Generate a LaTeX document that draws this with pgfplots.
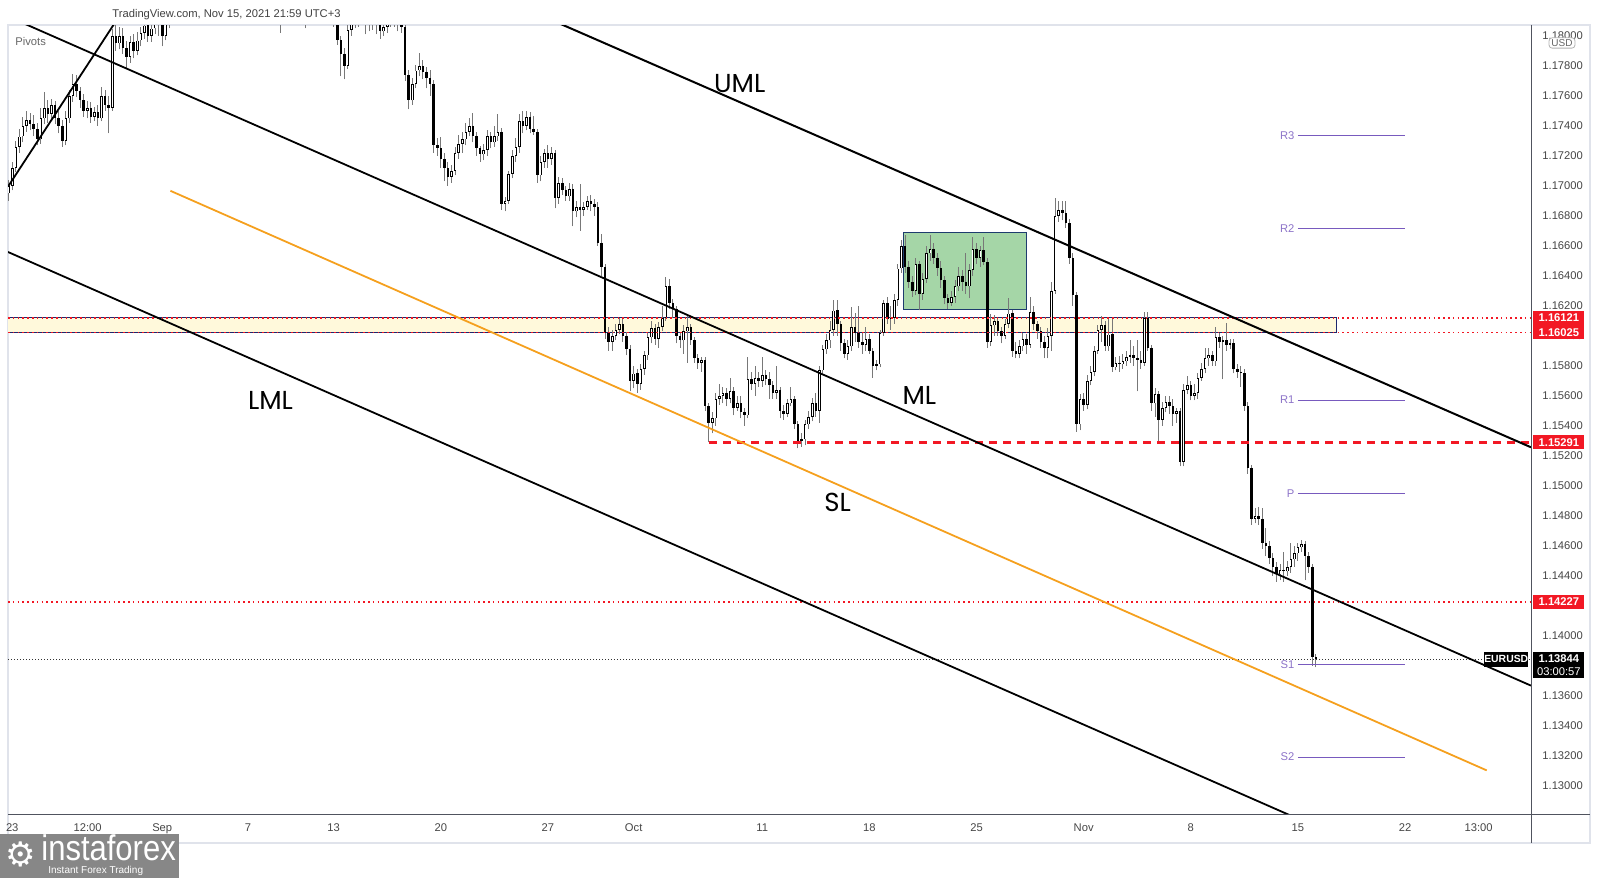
\documentclass[border=0pt]{standalone}
\usepackage{graphicx}
\usepackage{fontspec}
\setmainfont{Liberation Sans}
\newfontfamily\labfont{Poppins}
\newfontfamily\symfont{DejaVu Sans}
\usepackage{pgfplots}
\pgfplotsset{compat=1.18}
\usepackage{pgfplotstable}

\definecolor{tvred}{RGB}{242,24,36}
\definecolor{pivc}{RGB}{120,90,190}
\definecolor{bandy}{RGB}{255,249,219}
\definecolor{navyc}{RGB}{30,40,110}
\definecolor{boxg}{RGB}{165,214,167}
\definecolor{boxb}{RGB}{30,60,110}
\definecolor{slc}{RGB}{245,160,30}
\definecolor{wickc}{RGB}{120,120,120}
\definecolor{framec}{RGB}{224,227,235}
\definecolor{tickc}{RGB}{70,70,70}
\definecolor{axc}{RGB}{80,83,94}
\definecolor{logog}{RGB}{135,135,135}

\pgfplotstableread{
t o h l c
-0.167 1.1695 1.1704 1.1690 1.1700
0.000 1.1700 1.1716 1.1697 1.1712
0.167 1.1712 1.1730 1.1709 1.1726
0.333 1.1726 1.1738 1.1722 1.1733
0.500 1.1733 1.1746 1.1729 1.1740
0.667 1.1740 1.1750 1.1736 1.1744
0.833 1.1744 1.1749 1.1737 1.1741
1.000 1.1741 1.1747 1.1733 1.1738
1.167 1.1738 1.1742 1.1727 1.1731
1.333 1.1731 1.1752 1.1728 1.1745
1.500 1.1745 1.1763 1.1741 1.1752
1.667 1.1752 1.1757 1.1742 1.1748
1.833 1.1748 1.1758 1.1744 1.1754
2.000 1.1754 1.1757 1.1741 1.1745
2.167 1.1745 1.1750 1.1735 1.1740
2.333 1.1740 1.1744 1.1726 1.1730
2.500 1.1730 1.1750 1.1727 1.1745
2.667 1.1745 1.1764 1.1742 1.1760
2.833 1.1760 1.1775 1.1756 1.1768
3.000 1.1768 1.1774 1.1759 1.1763
3.167 1.1763 1.1766 1.1752 1.1757
3.333 1.1757 1.1761 1.1746 1.1750
3.500 1.1750 1.1757 1.1745 1.1752
3.667 1.1752 1.1756 1.1742 1.1746
3.833 1.1746 1.1753 1.1743 1.1749
4.000 1.1749 1.1754 1.1740 1.1745
4.167 1.1745 1.1766 1.1743 1.1760
4.333 1.1760 1.1764 1.1750 1.1754
4.500 1.1754 1.1760 1.1735 1.1752
4.667 1.1752 1.1805 1.1750 1.1800
4.833 1.1800 1.1808 1.1790 1.1795
5.000 1.1795 1.1806 1.1791 1.1800
5.167 1.1800 1.1805 1.1788 1.1792
5.333 1.1792 1.1797 1.1778 1.1786
5.500 1.1786 1.1800 1.1782 1.1796
5.667 1.1796 1.1801 1.1785 1.1790
5.833 1.1790 1.1803 1.1787 1.1797
6.000 1.1797 1.1806 1.1793 1.1802
6.167 1.1802 1.1812 1.1798 1.1807
6.333 1.1807 1.1811 1.1796 1.1800
6.500 1.1800 1.1813 1.1796 1.1805
6.667 1.1805 1.1818 1.1801 1.1812
6.833 1.1812 1.1815 1.1800 1.1808
7.000 1.1808 1.1812 1.1793 1.1800
7.167 1.1800 1.1814 1.1797 1.1810
7.333 1.1810 1.1823 1.1805 1.1818
7.500 1.1818 1.1830 1.1812 1.1825
7.667 1.1825 1.1836 1.1820 1.1830
7.833 1.1830 1.1840 1.1826 1.1835
8.000 1.1835 1.1846 1.1830 1.1842
8.167 1.1842 1.1852 1.1838 1.1848
8.333 1.1848 1.1860 1.1844 1.1855
8.500 1.1855 1.1866 1.1850 1.1860
8.667 1.1860 1.1864 1.1852 1.1856
8.833 1.1856 1.1863 1.1853 1.1860
9.000 1.1860 1.1868 1.1857 1.1865
9.167 1.1865 1.1874 1.1862 1.1870
9.333 1.1870 1.1875 1.1862 1.1868
9.500 1.1868 1.1890 1.1860 1.1880
9.667 1.1880 1.1888 1.1876 1.1882
9.833 1.1882 1.1885 1.1874 1.1878
10.000 1.1878 1.1882 1.1872 1.1876
10.167 1.1876 1.1880 1.1868 1.1872
10.333 1.1872 1.1876 1.1865 1.1868
10.500 1.1868 1.1874 1.1864 1.1870
10.667 1.1870 1.1873 1.1862 1.1866
10.833 1.1866 1.1871 1.1863 1.1868
11.000 1.1868 1.1872 1.1856 1.1860
11.167 1.1860 1.1863 1.1848 1.1852
11.333 1.1852 1.1855 1.1840 1.1845
11.500 1.1845 1.1848 1.1830 1.1838
11.667 1.1838 1.1846 1.1832 1.1842
11.833 1.1842 1.1845 1.1834 1.1838
12.000 1.1838 1.1841 1.1826 1.1832
12.167 1.1832 1.1836 1.1820 1.1825
12.333 1.1825 1.1828 1.1812 1.1818
12.500 1.1818 1.1822 1.1802 1.1814
12.667 1.1814 1.1824 1.1810 1.1820
12.833 1.1820 1.1823 1.1813 1.1818
13.000 1.1818 1.1828 1.1814 1.1824
13.167 1.1824 1.1830 1.1815 1.1820
13.333 1.1820 1.1834 1.1816 1.1828
13.500 1.1828 1.1832 1.1812 1.1822
13.667 1.1822 1.1830 1.1805 1.1826
13.833 1.1826 1.1834 1.1822 1.1830
14.000 1.1830 1.1840 1.1826 1.1836
14.167 1.1836 1.1845 1.1832 1.1840
14.333 1.1840 1.1843 1.1830 1.1834
14.500 1.1834 1.1838 1.1822 1.1828
14.667 1.1828 1.1832 1.1818 1.1824
14.833 1.1824 1.1828 1.1816 1.1820
15.000 1.1820 1.1824 1.1806 1.1810
15.167 1.1810 1.1813 1.1794 1.1797
15.333 1.1797 1.1800 1.1773 1.1788
15.500 1.1788 1.1792 1.1771 1.1780
15.667 1.1780 1.1808 1.1778 1.1804
15.833 1.1804 1.1815 1.1800 1.1810
16.000 1.1810 1.1818 1.1805 1.1815
16.167 1.1815 1.1820 1.1806 1.1812
16.333 1.1812 1.1822 1.1808 1.1818
16.500 1.1818 1.1821 1.1801 1.1810
16.667 1.1810 1.1815 1.1803 1.1808
16.833 1.1808 1.1816 1.1804 1.1812
17.000 1.1812 1.1815 1.1801 1.1808
17.167 1.1808 1.1812 1.1798 1.1803
17.333 1.1803 1.1810 1.1800 1.1806
17.500 1.1806 1.1814 1.1802 1.1810
17.667 1.1810 1.1818 1.1806 1.1815
17.833 1.1815 1.1818 1.1806 1.1812
18.000 1.1812 1.1816 1.1803 1.1808
18.167 1.1808 1.1813 1.1802 1.1806
18.333 1.1806 1.1809 1.1770 1.1774
18.500 1.1774 1.1777 1.1751 1.1757
18.667 1.1757 1.1772 1.1754 1.1768
18.833 1.1768 1.1781 1.1765 1.1777
19.000 1.1777 1.1789 1.1773 1.1780
19.167 1.1780 1.1784 1.1771 1.1776
19.333 1.1776 1.1779 1.1765 1.1772
19.500 1.1772 1.1777 1.1760 1.1768
19.667 1.1768 1.1771 1.1722 1.1727
19.833 1.1727 1.1732 1.1720 1.1725
20.000 1.1725 1.1733 1.1712 1.1718
20.167 1.1718 1.1722 1.1703 1.1712
20.333 1.1712 1.1716 1.1700 1.1706
20.500 1.1706 1.1714 1.1702 1.1710
20.667 1.1710 1.1726 1.1707 1.1722
20.833 1.1722 1.1734 1.1718 1.1728
21.000 1.1728 1.1736 1.1722 1.1731
21.167 1.1731 1.1742 1.1727 1.1736
21.333 1.1736 1.1745 1.1733 1.1740
21.500 1.1740 1.1749 1.1729 1.1733
21.667 1.1733 1.1736 1.1720 1.1725
21.833 1.1725 1.1727 1.1716 1.1721
22.000 1.1721 1.1728 1.1717 1.1724
22.167 1.1724 1.1737 1.1720 1.1733
22.333 1.1733 1.1736 1.1725 1.1729
22.500 1.1729 1.1740 1.1726 1.1733
22.667 1.1733 1.1748 1.1730 1.1736
22.833 1.1736 1.1739 1.1684 1.1688
23.000 1.1688 1.1693 1.1683 1.1690
23.167 1.1690 1.1710 1.1688 1.1708
23.333 1.1708 1.1724 1.1705 1.1720
23.500 1.1720 1.1732 1.1716 1.1726
23.667 1.1726 1.1748 1.1722 1.1743
23.833 1.1743 1.1750 1.1735 1.1740
24.000 1.1740 1.1750 1.1737 1.1746
24.167 1.1746 1.1749 1.1735 1.1738
24.333 1.1738 1.1747 1.1734 1.1736
24.500 1.1736 1.1738 1.1702 1.1707
24.667 1.1707 1.1720 1.1703 1.1716
24.833 1.1716 1.1725 1.1712 1.1722
25.000 1.1722 1.1727 1.1712 1.1718
25.167 1.1718 1.1726 1.1714 1.1722
25.333 1.1722 1.1724 1.1685 1.1692
25.500 1.1692 1.1706 1.1688 1.1702
25.667 1.1702 1.1705 1.1694 1.1697
25.833 1.1697 1.1700 1.1690 1.1693
26.000 1.1693 1.1702 1.1690 1.1698
26.167 1.1698 1.1701 1.1673 1.1683
26.333 1.1683 1.1690 1.1679 1.1686
26.500 1.1686 1.1701 1.1670 1.1684
26.667 1.1684 1.1689 1.1680 1.1686
26.833 1.1686 1.1693 1.1684 1.1690
27.000 1.1690 1.1694 1.1683 1.1688
27.167 1.1688 1.1691 1.1680 1.1686
27.333 1.1686 1.1689 1.1660 1.1662
27.500 1.1662 1.1668 1.1640 1.1646
27.667 1.1646 1.1648 1.1598 1.1602
27.833 1.1602 1.1606 1.1590 1.1596
28.000 1.1596 1.1604 1.1590 1.1600
28.167 1.1600 1.1608 1.1597 1.1604
28.333 1.1604 1.1612 1.1601 1.1608
28.500 1.1608 1.1611 1.1596 1.1600
28.667 1.1600 1.1603 1.1587 1.1591
28.833 1.1591 1.1594 1.1563 1.1570
29.000 1.1570 1.1580 1.1565 1.1575
29.167 1.1575 1.1578 1.1562 1.1568
29.333 1.1568 1.1581 1.1564 1.1578
29.500 1.1578 1.1590 1.1574 1.1587
29.667 1.1587 1.1603 1.1584 1.1599
29.833 1.1599 1.1610 1.1595 1.1605
30.000 1.1605 1.1608 1.1594 1.1598
30.167 1.1598 1.1609 1.1592 1.1606
30.333 1.1606 1.1620 1.1603 1.1612
30.500 1.1612 1.1639 1.1610 1.1633
30.667 1.1633 1.1638 1.1618 1.1622
30.833 1.1622 1.1625 1.1612 1.1618
31.000 1.1618 1.1620 1.1595 1.1600
31.167 1.1600 1.1603 1.1592 1.1597
31.333 1.1597 1.1607 1.1588 1.1603
31.500 1.1603 1.1614 1.1582 1.1606
31.667 1.1606 1.1608 1.1594 1.1597
31.833 1.1597 1.1599 1.1582 1.1585
32.000 1.1585 1.1588 1.1578 1.1582
32.167 1.1582 1.1586 1.1576 1.1584
32.333 1.1584 1.1586 1.1550 1.1553
32.500 1.1553 1.1555 1.1529 1.1542
32.667 1.1542 1.1549 1.1535 1.1545
32.833 1.1545 1.1562 1.1540 1.1558
33.000 1.1558 1.1568 1.1554 1.1560
33.167 1.1560 1.1566 1.1555 1.1562
33.333 1.1562 1.1565 1.1553 1.1558
33.500 1.1558 1.1572 1.1555 1.1563
33.667 1.1563 1.1566 1.1547 1.1552
33.833 1.1552 1.1560 1.1550 1.1555
34.000 1.1555 1.1560 1.1545 1.1549
34.167 1.1549 1.1552 1.1540 1.1547
34.333 1.1547 1.1586 1.1545 1.1571
34.500 1.1571 1.1576 1.1564 1.1568
34.667 1.1568 1.1580 1.1560 1.1572
34.833 1.1572 1.1576 1.1566 1.1570
35.000 1.1570 1.1586 1.1566 1.1574
35.167 1.1574 1.1577 1.1567 1.1571
35.333 1.1571 1.1576 1.1558 1.1567
35.500 1.1567 1.1570 1.1558 1.1562
35.667 1.1562 1.1580 1.1558 1.1564
35.833 1.1564 1.1566 1.1545 1.1550
36.000 1.1550 1.1554 1.1544 1.1548
36.167 1.1548 1.1558 1.1546 1.1555
36.333 1.1555 1.1566 1.1553 1.1558
36.500 1.1558 1.1560 1.1538 1.1541
36.667 1.1541 1.1543 1.1525 1.1530
36.833 1.1530 1.1535 1.1526 1.1531
37.000 1.1531 1.1544 1.1527 1.1541
37.167 1.1541 1.1550 1.1538 1.1546
37.333 1.1546 1.1559 1.1543 1.1555
37.500 1.1555 1.1562 1.1546 1.1550
37.667 1.1550 1.1580 1.1542 1.1577
37.833 1.1577 1.1594 1.1575 1.1591
38.000 1.1591 1.1601 1.1588 1.1597
38.167 1.1597 1.1610 1.1592 1.1604
38.333 1.1604 1.1624 1.1600 1.1617
38.500 1.1617 1.1624 1.1600 1.1608
38.667 1.1608 1.1610 1.1590 1.1595
38.833 1.1595 1.1598 1.1585 1.1588
39.000 1.1588 1.1597 1.1584 1.1593
39.167 1.1593 1.1619 1.1590 1.1606
39.333 1.1606 1.1615 1.1596 1.1602
39.500 1.1602 1.1620 1.1592 1.1596
39.667 1.1596 1.1602 1.1588 1.1594
39.833 1.1594 1.1606 1.1590 1.1598
40.000 1.1598 1.1601 1.1588 1.1590
40.167 1.1590 1.1592 1.1572 1.1580
40.333 1.1580 1.1584 1.1577 1.1581
40.500 1.1581 1.1604 1.1579 1.1602
40.667 1.1602 1.1624 1.1600 1.1622
40.833 1.1622 1.1626 1.1608 1.1611
41.000 1.1611 1.1620 1.1604 1.1612
41.167 1.1612 1.1628 1.1608 1.1624
41.333 1.1624 1.1648 1.1620 1.1645
41.500 1.1645 1.1664 1.1642 1.1660
41.667 1.1660 1.1667 1.1642 1.1646
41.833 1.1646 1.1650 1.1632 1.1636
42.000 1.1636 1.1640 1.1626 1.1630
42.167 1.1630 1.1652 1.1627 1.1648
42.333 1.1648 1.1650 1.1617 1.1628
42.500 1.1628 1.1642 1.1624 1.1638
42.667 1.1638 1.1660 1.1635 1.1655
42.833 1.1655 1.1667 1.1650 1.1658
43.000 1.1658 1.1662 1.1648 1.1652
43.167 1.1652 1.1655 1.1640 1.1645
43.333 1.1645 1.1650 1.1632 1.1637
43.500 1.1637 1.1640 1.1621 1.1625
43.667 1.1625 1.1628 1.1618 1.1622
43.833 1.1622 1.1630 1.1620 1.1626
44.000 1.1626 1.1637 1.1622 1.1633
44.167 1.1633 1.1646 1.1630 1.1640
44.333 1.1640 1.1644 1.1630 1.1636
44.500 1.1636 1.1655 1.1628 1.1633
44.667 1.1633 1.1648 1.1625 1.1644
44.833 1.1644 1.1666 1.1640 1.1658
45.000 1.1658 1.1662 1.1648 1.1652
45.167 1.1652 1.1660 1.1646 1.1657
45.333 1.1657 1.1666 1.1647 1.1649
45.500 1.1649 1.1652 1.1592 1.1596
45.667 1.1596 1.1615 1.1593 1.1607
45.833 1.1607 1.1614 1.1600 1.1610
46.000 1.1610 1.1612 1.1600 1.1603
46.167 1.1603 1.1606 1.1595 1.1600
46.333 1.1600 1.1611 1.1598 1.1608
46.500 1.1608 1.1625 1.1605 1.1615
46.667 1.1615 1.1617 1.1586 1.1590
46.833 1.1590 1.1596 1.1585 1.1588
47.000 1.1588 1.1597 1.1585 1.1593
47.167 1.1593 1.1602 1.1590 1.1598
47.333 1.1598 1.1601 1.1588 1.1594
47.500 1.1594 1.1626 1.1592 1.1616
47.667 1.1616 1.1620 1.1604 1.1608
47.833 1.1608 1.1610 1.1598 1.1603
48.000 1.1603 1.1606 1.1592 1.1596
48.167 1.1596 1.1600 1.1585 1.1592
48.333 1.1592 1.1605 1.1585 1.1600
48.500 1.1600 1.1636 1.1590 1.1630
48.667 1.1630 1.1692 1.1628 1.1680
48.833 1.1680 1.1690 1.1676 1.1684
49.000 1.1684 1.1690 1.1677 1.1682
49.167 1.1682 1.1690 1.1672 1.1675
49.333 1.1675 1.1678 1.1648 1.1652
49.500 1.1652 1.1655 1.1620 1.1627
49.667 1.1627 1.1629 1.1536 1.1541
49.833 1.1541 1.1561 1.1537 1.1558
50.000 1.1558 1.1562 1.1550 1.1554
50.167 1.1554 1.1574 1.1551 1.1570
50.333 1.1570 1.1580 1.1567 1.1576
50.500 1.1576 1.1593 1.1573 1.1590
50.667 1.1590 1.1607 1.1588 1.1604
50.833 1.1604 1.1613 1.1596 1.1607
51.000 1.1607 1.1610 1.1590 1.1593
51.167 1.1593 1.1612 1.1590 1.1601
51.333 1.1601 1.1611 1.1576 1.1579
51.500 1.1579 1.1586 1.1577 1.1582
51.667 1.1582 1.1587 1.1576 1.1581
51.833 1.1581 1.1588 1.1578 1.1583
52.000 1.1583 1.1590 1.1580 1.1586
52.167 1.1586 1.1597 1.1582 1.1587
52.333 1.1587 1.1593 1.1580 1.1585
52.500 1.1585 1.1597 1.1563 1.1584
52.667 1.1584 1.1590 1.1578 1.1582
52.833 1.1582 1.1616 1.1580 1.1612
53.000 1.1612 1.1616 1.1590 1.1592
53.167 1.1592 1.1594 1.1550 1.1555
53.333 1.1555 1.1565 1.1546 1.1561
53.500 1.1561 1.1563 1.1529 1.1544
53.667 1.1544 1.1556 1.1540 1.1552
53.833 1.1552 1.1560 1.1549 1.1556
54.000 1.1556 1.1560 1.1548 1.1553
54.167 1.1553 1.1558 1.1540 1.1548
54.333 1.1548 1.1552 1.1542 1.1550
54.500 1.1550 1.1552 1.1513 1.1516
54.667 1.1516 1.1568 1.1513 1.1564
54.833 1.1564 1.1573 1.1561 1.1567
55.000 1.1567 1.1570 1.1557 1.1560
55.167 1.1560 1.1568 1.1557 1.1562
55.333 1.1562 1.1575 1.1558 1.1572
55.500 1.1572 1.1582 1.1570 1.1578
55.667 1.1578 1.1592 1.1575 1.1585
55.833 1.1585 1.1592 1.1580 1.1587
56.000 1.1587 1.1590 1.1580 1.1583
56.167 1.1583 1.1606 1.1580 1.1599
56.333 1.1599 1.1602 1.1592 1.1596
56.500 1.1596 1.1600 1.1571 1.1597
56.667 1.1597 1.1609 1.1590 1.1594
56.833 1.1594 1.1598 1.1591 1.1595
57.000 1.1595 1.1598 1.1575 1.1578
57.167 1.1578 1.1581 1.1572 1.1576
57.333 1.1576 1.1580 1.1566 1.1575
57.500 1.1575 1.1578 1.1550 1.1553
57.667 1.1553 1.1556 1.1508 1.1512
57.833 1.1512 1.1514 1.1474 1.1478
58.000 1.1478 1.1485 1.1475 1.1480
58.167 1.1480 1.1486 1.1474 1.1478
58.333 1.1478 1.1485 1.1458 1.1462
58.500 1.1462 1.1472 1.1453 1.1460
58.667 1.1460 1.1463 1.1448 1.1452
58.833 1.1452 1.1455 1.1440 1.1446
59.000 1.1446 1.1449 1.1436 1.1441
59.167 1.1441 1.1448 1.1437 1.1444
59.333 1.1444 1.1456 1.1436 1.1443
59.500 1.1443 1.1450 1.1440 1.1446
59.667 1.1446 1.1462 1.1442 1.1451
59.833 1.1451 1.1460 1.1446 1.1455
60.000 1.1455 1.1462 1.1450 1.1459
60.167 1.1459 1.1464 1.1456 1.1461
60.333 1.1461 1.1463 1.1437 1.1453
60.500 1.1453 1.1456 1.1442 1.1446
60.667 1.1446 1.1448 1.1380 1.1386
60.833 1.1386 1.1388 1.1379 1.13844
}\candles

\begin{document}
\begin{tikzpicture}[x=1pt,y=1pt]
\path[use as bounding box] (0,0) rectangle (800,439);
\draw[framec, line width=0.6pt] (4,17.5) rectangle (795,426.5);
\begin{axis}[
  at={(4pt,32pt)}, anchor=south west,
  scale only axis, width=761.5pt, height=394pt,
  xmin=-0.198, xmax=70.876, ymin=1.128133, ymax=1.180667,
  axis x line*=bottom, axis y line*=right,
  axis line style={draw=none},
  tick style={draw=none},
  ytick={1.130,1.132,1.134,1.136,1.140,1.144,1.146,1.148,1.150,1.152,1.154,1.156,1.158,1.160,1.162,1.164,1.166,1.168,1.170,1.172,1.174,1.176,1.178,1.180},
  yticklabels={1.13000,1.13200,1.13400,1.13600,1.14000,1.14400,1.14600,1.14800,1.15000,1.15200,1.15400,1.15600,1.15800,1.16000,1.16200,1.16400,1.16600,1.16800,1.17000,1.17200,1.17400,1.17600,1.17800,1.18000},
  yticklabel style={anchor=west, inner sep=0pt, xshift=5.5pt, font=\fontsize{5.6}{6}\selectfont, text=tickc},
  xtick={0,3.52,7,11,15,20,25,29,35,40,45,50,55,60,65,68.43},
  xticklabels={23,12:00,Sep,7,13,20,27,Oct,11,18,25,Nov,8,15,22,13:00},
  xticklabel style={anchor=base, inner sep=0pt, yshift=-9pt, font=\fontsize{5.6}{6}\selectfont, text=tickc},
  clip=true,
]
% yellow band and green box
\addplot[fill=bandy, draw=none] coordinates {(-0.5,1.16025) (61.81,1.16025) (61.81,1.16121) (-0.5,1.16121)} -- cycle;
\addplot[navyc, line width=0.5pt] coordinates {(-0.5,1.16121) (61.81,1.16121) (61.81,1.16025) (-0.5,1.16025)};
\addplot[fill=boxg, draw=boxb, line width=0.5pt] coordinates {(41.57,1.16179) (47.35,1.16179) (47.35,1.16689) (41.57,1.16689)} -- cycle;
% candles
\addplot[wickc, line width=0.5pt, quiver={u=0, v=\thisrow{h}-\thisrow{l}}] table[x=t, y=l] {\candles};
\addplot[black, line width=1.3pt, quiver={u=0, v=\thisrow{c}-\thisrow{o}}] table[x=t, y=o] {\candles};
\addplot[white, line width=0.5pt, quiver={u=0, v=\thisrow{c}-\thisrow{o}-0.0001},
  restrict expr to domain={\thisrow{c}-\thisrow{o}}{0.00015:1}] table[x=t, y expr=\thisrow{o}+0.00005] {\candles};
% horizontal levels
\addplot[tvred, line width=0.7pt, dash pattern=on 0.8pt off 1.6pt] coordinates {(-0.198,1.16121) (70.876,1.16121)};
\addplot[tvred, line width=0.7pt, dash pattern=on 0.8pt off 1.6pt] coordinates {(-0.198,1.16025) (70.876,1.16025)};
\addplot[tvred, line width=0.7pt, dash pattern=on 0.8pt off 1.6pt] coordinates {(-0.198,1.14227) (70.876,1.14227)};
\addplot[tvred, line width=1.2pt, dash pattern=on 4pt off 3pt] coordinates {(32.52,1.15291) (70.876,1.15291)};
\addplot[black!80, line width=0.35pt, dash pattern=on 0.5pt off 1pt] coordinates {(-0.198,1.13844) (70.876,1.13844)};
% channel lines
\addplot[black, line width=1pt] coordinates {(25.0,1.18117) (70.876,1.15258)};
\addplot[black, line width=0.9pt] coordinates {(0.3,1.18099) (70.876,1.13669)};
\addplot[black, line width=0.9pt] coordinates {(-0.198,1.1656) (62,1.12656)};
\addplot[slc, line width=0.9pt] coordinates {(7.38,1.16968) (68.81,1.13104)};
\addplot[black, line width=0.9pt] coordinates {(-0.198,1.16996) (5.0,1.18134)};
% pivots
\addplot[pivc, line width=0.5pt] coordinates {(60,1.17335) (65,1.17335)};
\addplot[pivc, line width=0.5pt] coordinates {(60,1.16716) (65,1.16716)};
\addplot[pivc, line width=0.5pt] coordinates {(60,1.15573) (65,1.15573)};
\addplot[pivc, line width=0.5pt] coordinates {(60,1.14948) (65,1.14948)};
\addplot[pivc, line width=0.5pt] coordinates {(60,1.13812) (65,1.13812)};
\addplot[pivc, line width=0.5pt] coordinates {(60,1.13193) (65,1.13193)};
\foreach \lab/\yy in {R3/1.17335,R2/1.16716,R1/1.15573,P/1.14948,S1/1.13812,S2/1.13193}{
  \edef\temp{\noexpand\node[anchor=east, text=pivc!85, font=\noexpand\fontsize{5.6}{6}\noexpand\selectfont, inner sep=0pt] at (axis cs:59.85,\yy) {\lab};}
  \temp
}
% big labels
\node[font=\labfont\fontsize{13}{15}\selectfont] at (axis cs:33.95,1.17682) {UML};
\node[font=\labfont\fontsize{13}{15}\selectfont] at (axis cs:42.33,1.15601) {ML};
\node[font=\labfont\fontsize{13}{15}\selectfont] at (axis cs:12.05,1.15573) {LML};
\node[font=\labfont\fontsize{13}{15}\selectfont] at (axis cs:38.52,1.14893) {SL};
% anchor coordinates for price labels
\coordinate (A1) at (axis cs:70.876,1.16121);
\coordinate (A2) at (axis cs:70.876,1.16025);
\coordinate (A3) at (axis cs:70.876,1.15291);
\coordinate (A4) at (axis cs:70.876,1.14227);
\coordinate (A5) at (axis cs:70.876,1.13844);
\end{axis}
% axis lines
\draw[axc, line width=0.5pt] (4,32) -- (795,32);
\draw[axc, line width=0.5pt] (765.5,426.5) -- (765.5,17.5);
% price labels
\foreach \c/\t in {A1/1.16121,A2/1.16025,A3/1.15291,A4/1.14227}{
  \node[fill=tvred, text=white, anchor=west, minimum width=25.5pt, minimum height=7.1pt, inner sep=0pt, font=\bfseries\fontsize{5.6}{6}\selectfont] at ([xshift=1pt]\c) {\t};
}
\node[fill=black, text=white, anchor=north west, minimum width=25.5pt, inner xsep=0pt, inner ysep=1.2pt, align=center, font=\fontsize{5.6}{6.8}\selectfont] at ([xshift=1pt,yshift=4pt]A5) {\textbf{1.13844}\\03:00:57};
\node[fill=black, text=white, anchor=east, minimum width=21.5pt, minimum height=7.5pt, inner sep=0pt, font=\bfseries\fontsize{5.2}{6}\selectfont] at ([xshift=-1.2pt]A5) {EURUSD};
\node[fill=white, draw=black!30, rounded corners=1.5pt, text=black!60, inner xsep=1.2pt, inner ysep=0.8pt, font=\fontsize{5}{6}\selectfont] at (781,417.5) {USD};
% header texts
\node[anchor=west, inner sep=0pt, text=black!75, font=\fontsize{5.6}{6}\selectfont] at (56,431.8) {TradingView.com, Nov 15, 2021 21:59 UTC+3};
\node[anchor=west, inner sep=0pt, text=black!60, font=\fontsize{5.6}{6}\selectfont] at (7.5,418) {Pivots};
% logo
\fill[logog] (0,0) rectangle (89.5,22);
\node[text=white, inner sep=0pt, font=\symfont\fontsize{17}{17}\selectfont] at (10.5,12) {⚙};
\node[text=white, anchor=base west, inner sep=0pt, font=\fontsize{15.5}{16}\selectfont] at (20.5,8.6) {\scalebox{1}[1.15]{instaforex}};
\node[text=white, anchor=west, inner sep=0pt, font=\fontsize{5}{5}\selectfont] at (24,3.6) {Instant Forex Trading};
\end{tikzpicture}
\end{document}
